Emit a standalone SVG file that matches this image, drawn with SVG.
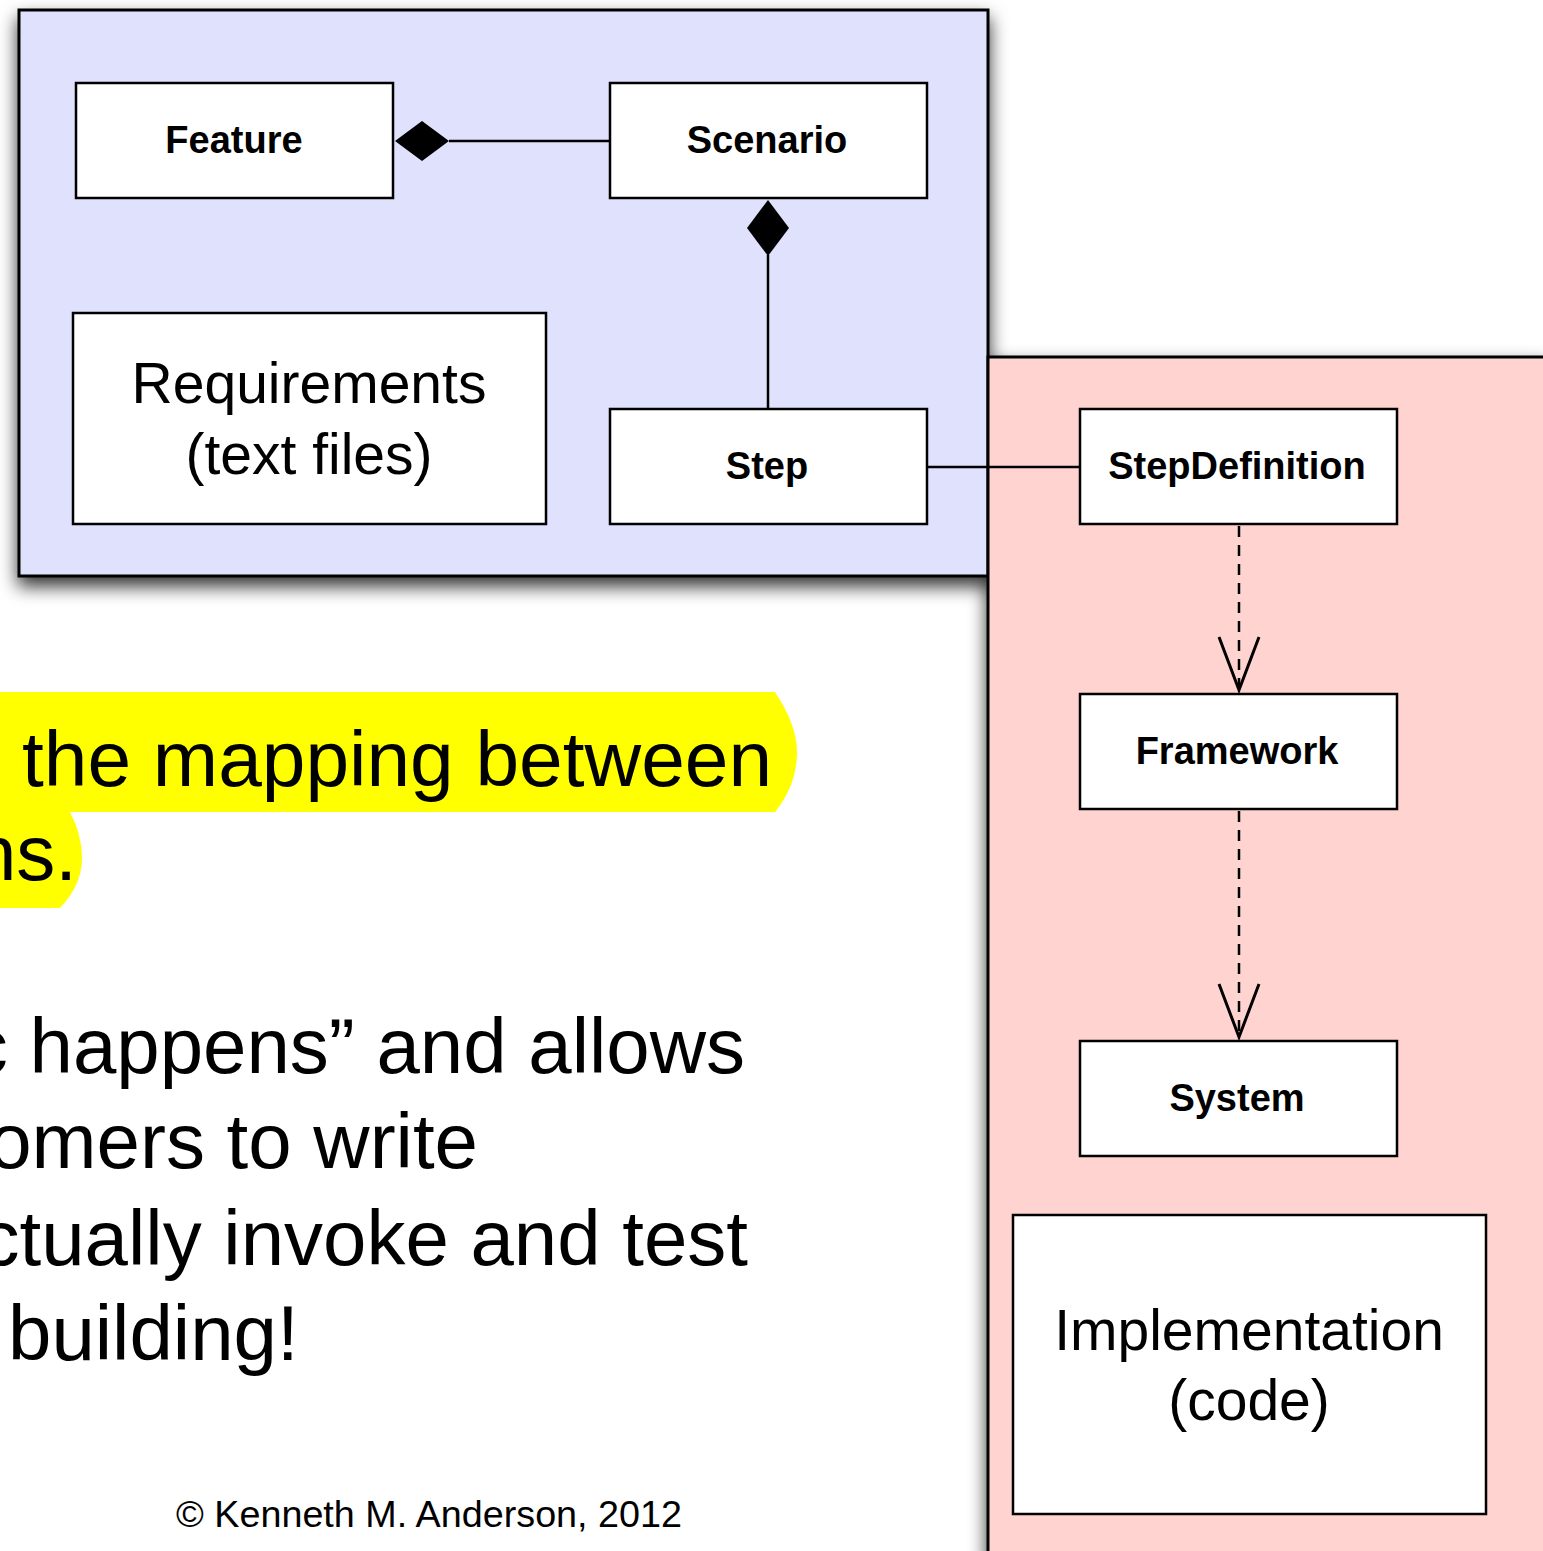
<svg xmlns="http://www.w3.org/2000/svg" width="1543" height="1551" viewBox="0 0 1543 1551">
<style>
.panel{stroke:#000;stroke-width:3}
.box{fill:#fff;stroke:#000;stroke-width:2.5}
.lbl{font-family:"Liberation Sans",Arial,sans-serif;font-weight:bold;font-size:38px;text-anchor:middle;fill:#000}
.big{font-family:"Liberation Sans",Arial,sans-serif;font-size:57px;text-anchor:middle;fill:#000}
.body{font-family:"Liberation Sans",Arial,sans-serif;font-size:78px;fill:#000}
.conn{stroke:#000;stroke-width:2.5;fill:none}
.head{stroke:#000;stroke-width:3;fill:none}
.dash{stroke-dasharray:11 8}
</style>
<defs>
<filter id="shadow" x="-10%" y="-10%" width="130%" height="130%">
<feDropShadow dx="0" dy="9" stdDeviation="9" flood-color="#000" flood-opacity="0.8"/>
</filter>
</defs>
<rect width="1543" height="1551" fill="#fff"/>
<path d="M0,692 H775 Q797,725 797,752 Q797,785 775,812 H70 Q82,835 82,858 Q82,885 60,908 H0 Z" fill="#ffff00"/>
<g id="text-body">
<text class="body" x="22" y="786" textLength="750" lengthAdjust="spacingAndGlyphs">the mapping between</text>
<text class="body" x="77" y="880" text-anchor="end">ns.</text>
<text class="body" x="745" y="1073" text-anchor="end">c happens” and allows</text>
<text class="body" x="478" y="1168" text-anchor="end">omers to write</text>
<text class="body" x="748" y="1265" text-anchor="end">ctually invoke and test</text>
<text class="body" x="8" y="1360">building!</text>
<text x="429" y="1527" font-family="'Liberation Sans',Arial,sans-serif" font-size="37" text-anchor="middle" textLength="506" lengthAdjust="spacingAndGlyphs">© Kenneth M. Anderson, 2012</text>
</g>
<g id="panels" filter="url(#shadow)">
<rect id="panel-requirements" class="panel" x="19" y="10" width="969" height="566" fill="#dfe1fd"/>
<rect id="panel-implementation" class="panel" x="988" y="357" width="560" height="1200" fill="#ffd3cf"/>
</g>
<g id="connectors">
<line class="conn" x1="449" y1="141" x2="610" y2="141"/>
<polygon points="395,141 422,121 449,141 422,161" fill="#000"/>
<line class="conn" x1="768" y1="255" x2="768" y2="409"/>
<polygon points="768,200 789,228 768,256 747,228" fill="#000"/>
<line class="conn" x1="927" y1="467" x2="1080" y2="467"/>
<line class="conn dash" x1="1239" y1="526" x2="1239" y2="688"/>
<polyline class="head" points="1219,637 1239,690 1259,637"/>
<line class="conn dash" x1="1239" y1="811" x2="1239" y2="1035"/>
<polyline class="head" points="1219,984 1239,1037 1259,984"/>
</g>
<g id="node-feature">
<rect class="box" x="76" y="83" width="317" height="115"/>
<text class="lbl" x="234" y="153">Feature</text>
</g>
<g id="node-scenario">
<rect class="box" x="610" y="83" width="317" height="115"/>
<text class="lbl" x="767" y="153">Scenario</text>
</g>
<g id="node-requirements">
<rect class="box" x="73" y="313" width="473" height="211"/>
<text class="big" x="309" y="403">Requirements</text>
<text class="big" x="309" y="474">(text files)</text>
</g>
<g id="node-step">
<rect class="box" x="610" y="409" width="317" height="115"/>
<text class="lbl" x="767" y="479">Step</text>
</g>
<g id="node-stepdefinition">
<rect class="box" x="1080" y="409" width="317" height="115"/>
<text class="lbl" x="1237" y="479">StepDefinition</text>
</g>
<g id="node-framework">
<rect class="box" x="1080" y="694" width="317" height="115"/>
<text class="lbl" x="1237" y="764">Framework</text>
</g>
<g id="node-system">
<rect class="box" x="1080" y="1041" width="317" height="115"/>
<text class="lbl" x="1237" y="1111">System</text>
</g>
<g id="node-implementation">
<rect class="box" x="1013" y="1215" width="473" height="299"/>
<text class="big" x="1249" y="1350">Implementation</text>
<text class="big" x="1249" y="1420">(code)</text>
</g>
</svg>
